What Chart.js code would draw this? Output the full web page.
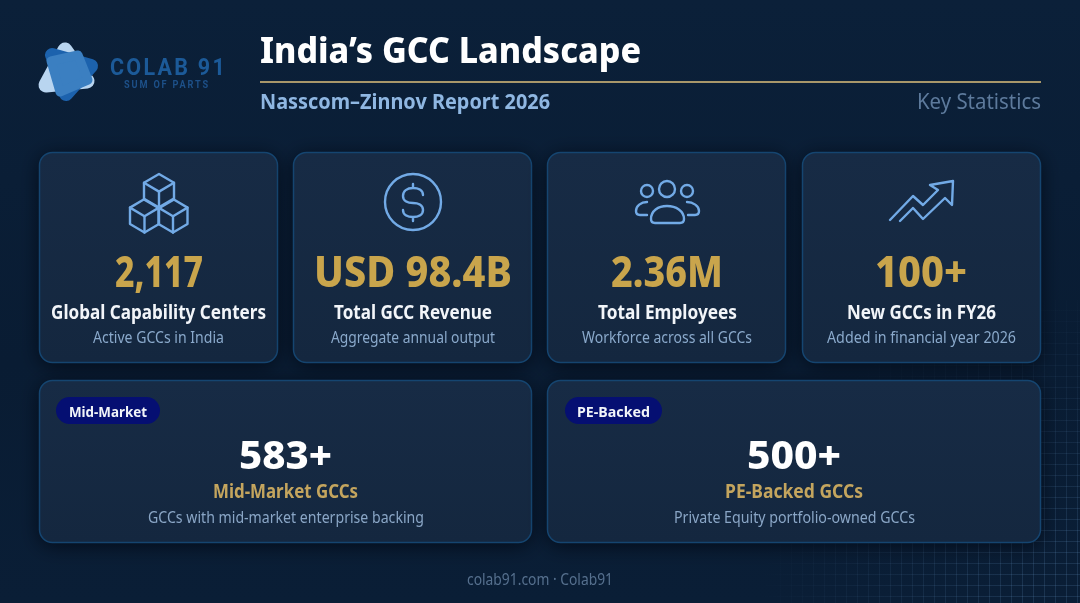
<!DOCTYPE html>
<html>
<head>
<meta charset="utf-8">
<title>India's GCC Landscape</title>
<script src="https://cdn.jsdelivr.net/npm/chart.js@4"></script>
<style>
  html, body { margin: 0; padding: 0; background: #0a1e36; }
  #c { display: block; }
</style>
</head>
<body>
<canvas id="c" width="1080" height="603"></canvas>
<script>
// chart values and text
const statValues = [2117, 98.4, 2.36, 100];
const statTexts = ['2,117', 'USD 98.4B', '2.36M', '100+'];
const statLabels = ['Global Capability Centers', 'Total GCC Revenue', 'Total Employees', 'New GCCs in FY26'];
const statNotes = ['Active GCCs in India', 'Aggregate annual output', 'Workforce across all GCCs', 'Added in financial year 2026'];
const segmentValues = [583, 500];
const segmentTexts = ['583+', '500+'];
const segmentTags = ['Mid-Market', 'PE-Backed'];
const segmentLabels = ['Mid-Market GCCs', 'PE-Backed GCCs'];
const segmentNotes = ['GCCs with mid-market enterprise backing', 'Private Equity portfolio-owned GCCs'];

const FONT = '"Noto Sans", sans-serif';
const GOLD = '#c9a54c';
const ICON = '#72aae6';

// fit text between two x positions, the reference face is narrower than Noto
function fitText(ctx, str, left, right, base, font, color) {
  ctx.save();
  ctx.font = font;
  ctx.fillStyle = color;
  ctx.textAlign = 'left';
  ctx.textBaseline = 'alphabetic';
  const w = ctx.measureText(str).width;
  ctx.translate(left, base);
  ctx.scale((right - left) / w, 1);
  ctx.fillText(str, 0, 0);
  ctx.restore();
}

function card(ctx, x, y, w, h) {
  ctx.save();
  ctx.shadowColor = 'rgba(1,6,16,0.8)';
  ctx.shadowBlur = 20;
  ctx.shadowOffsetY = 3;
  const g = ctx.createLinearGradient(0, y, 0, y + h);
  g.addColorStop(0, '#172b45');
  g.addColorStop(1, '#14273f');
  ctx.fillStyle = g;
  ctx.beginPath();
  ctx.roundRect(x + 0.5, y + 0.5, w - 1, h - 1, 13);
  ctx.fill();
  ctx.restore();
  ctx.strokeStyle = '#154570';
  ctx.lineWidth = 1.5;
  ctx.beginPath();
  ctx.roundRect(x + 0.5, y + 0.5, w - 1, h - 1, 13);
  ctx.stroke();
}

function poly(ctx, pts, close) {
  ctx.beginPath();
  pts.forEach((p, i) => i ? ctx.lineTo(p[0], p[1]) : ctx.moveTo(p[0], p[1]));
  if (close) ctx.closePath();
}

function drawBackground(ctx, w, h) {
  const g = ctx.createLinearGradient(0, 0, 0, h);
  g.addColorStop(0, '#0b2039');
  g.addColorStop(0.6, '#091c33');
  g.addColorStop(1, '#0a1e36');
  ctx.fillStyle = g;
  ctx.fillRect(0, 0, w, h);

  // faint grid in the bottom right corner
  const fade = ctx.createRadialGradient(1080, 603, 60, 1080, 603, 320);
  fade.addColorStop(0, 'rgba(110,160,210,0.17)');
  fade.addColorStop(1, 'rgba(110,160,210,0)');
  ctx.strokeStyle = fade;
  ctx.lineWidth = 1;
  ctx.beginPath();
  for (let x = 780.5; x < w; x += 11) { ctx.moveTo(x, 300); ctx.lineTo(x, h); }
  for (let y = 310.5; y < h; y += 11) { ctx.moveTo(760, y); ctx.lineTo(w, y); }
  ctx.stroke();
}

function drawLogo(ctx) {
  ctx.save();
  ctx.lineJoin = 'round';
  const blob = (pts, color, r) => {
    ctx.fillStyle = color;
    ctx.strokeStyle = color;
    ctx.lineWidth = r;
    poly(ctx, pts, true);
    ctx.fill();
    ctx.stroke();
  };
  blob([[65, 50], [46, 85], [87, 81]], '#b9d5f0', 15);
  blob([[52, 55], [91, 66], [66, 94]], '#1c62ad', 14);
  blob([[51, 61], [78, 55], [88, 80], [60, 92]], '#3b7fc1', 9);
  ctx.restore();

  ctx.save();
  ctx.letterSpacing = '2.4px';
  fitText(ctx, 'COLAB 91', 110, 227, 75, '700 23px Roboto, sans-serif', '#1c5a98');
  ctx.letterSpacing = '2px';
  fitText(ctx, 'SUM OF PARTS', 124, 210, 88, '700 10px Roboto, sans-serif', '#1d5088');
  ctx.restore();
}

function drawCubes(ctx) {
  const cube = (cx, top, r, d) => {
    poly(ctx, [[cx, top], [cx + r, top + d], [cx + r, top + 2.9 * d], [cx, top + 3.9 * d], [cx - r, top + 2.9 * d], [cx - r, top + d]], true);
    ctx.stroke();
    poly(ctx, [[cx - r, top + d], [cx, top + 2 * d], [cx + r, top + d]]);
    ctx.stroke();
    poly(ctx, [[cx, top + 2 * d], [cx, top + 3.9 * d]]);
    ctx.stroke();
  };
  cube(159, 174, 15, 8.8);
  cube(144.5, 199, 14.5, 8.6);
  cube(173, 199, 14.5, 8.6);
}

function drawDollar(ctx) {
  ctx.beginPath();
  ctx.arc(413, 202, 28, 0, Math.PI * 2);
  ctx.stroke();
  ctx.beginPath();
  ctx.moveTo(423, 195);
  ctx.bezierCurveTo(423, 190, 418, 188, 413, 188);
  ctx.bezierCurveTo(407, 188, 403, 191, 403, 196);
  ctx.bezierCurveTo(403, 201, 408, 203, 413, 203);
  ctx.bezierCurveTo(418, 203, 423, 205, 423, 210);
  ctx.bezierCurveTo(423, 215, 418, 217, 413, 217);
  ctx.bezierCurveTo(408, 217, 403, 215, 403, 210);
  ctx.moveTo(413, 184); ctx.lineTo(413, 188);
  ctx.moveTo(413, 217); ctx.lineTo(413, 221);
  ctx.stroke();
}

function drawPeople(ctx) {
  [[667, 189, 8], [647, 191, 6], [687, 191, 6]].forEach(c => {
    ctx.beginPath();
    ctx.arc(c[0], c[1], c[2], 0, Math.PI * 2);
    ctx.stroke();
  });
  ctx.beginPath();
  ctx.moveTo(655, 223);
  ctx.quadraticCurveTo(651, 223, 651, 219);
  ctx.bezierCurveTo(651, 211, 658, 206, 667, 206);
  ctx.bezierCurveTo(676, 206, 684, 211, 684, 219);
  ctx.quadraticCurveTo(684, 223, 680, 223);
  ctx.closePath();
  ctx.stroke();
  ctx.beginPath();
  ctx.moveTo(647, 202);
  ctx.bezierCurveTo(641, 202, 636, 206, 636, 211);
  ctx.quadraticCurveTo(636, 215, 640, 215);
  ctx.lineTo(647, 215);
  ctx.moveTo(687, 202);
  ctx.bezierCurveTo(693, 202, 699, 206, 699, 211);
  ctx.quadraticCurveTo(699, 215, 695, 215);
  ctx.lineTo(688, 215);
  ctx.stroke();
}

function drawArrow(ctx) {
  poly(ctx, [[890, 220], [913, 196], [923, 205], [938, 190], [930, 185], [953, 181], [952, 205], [945, 198], [923, 219], [913, 208], [900, 221]]);
  ctx.stroke();
}

// the page is one chart, the cards are drawn behind the hidden scales
const infographic = {
  id: 'infographic',
  beforeDraw(chart) {
    const ctx = chart.ctx;
    drawBackground(ctx, chart.width, chart.height);
    drawLogo(ctx);

    fitText(ctx, 'India\u2019s GCC Landscape', 260, 641, 63, '800 36px ' + FONT, '#ffffff');
    ctx.fillStyle = '#a8976a';
    ctx.fillRect(260, 81, 781, 2);
    fitText(ctx, 'Nasscom\u2013Zinnov Report 2026', 260, 550, 109, '700 22px ' + FONT, '#8fb7e2');
    fitText(ctx, 'Key Statistics', 917, 1041, 109, '400 22px ' + FONT, '#5d7a9c');

    // top row
    const cardX = [39, 293, 547, 802];
    const valueX = [[115, 203], [314, 512], [611, 723], [875, 967]];
    const labelX = [[51, 266], [334, 492], [598, 737], [847, 996]];
    const noteX = [[93, 224], [331, 495], [582, 752], [827, 1016]];
    const icons = [drawCubes, drawDollar, drawPeople, drawArrow];
    statTexts.forEach((t, i) => {
      card(ctx, cardX[i], 152, 239, 211);
      ctx.save();
      ctx.strokeStyle = ICON;
      ctx.lineWidth = 2.4;
      ctx.lineJoin = 'round';
      ctx.lineCap = 'round';
      icons[i](ctx);
      ctx.restore();
      fitText(ctx, t, valueX[i][0], valueX[i][1], 287, '800 42px ' + FONT, GOLD);
      fitText(ctx, statLabels[i], labelX[i][0], labelX[i][1], 319, '700 19.5px ' + FONT, '#f2f5f9');
      fitText(ctx, statNotes[i], noteX[i][0], noteX[i][1], 343, '400 16px ' + FONT, '#8aa9cb');
    });

    // bottom row
    const wideX = [39, 547];
    const wideW = [493, 494];
    const pillX = [[56, 160], [565, 662]];
    const tagX = [[69, 147], [577, 650]];
    const bigX = [[239, 332], [747, 841]];
    const subX = [[213, 358], [725, 863]];
    const descX = [[148, 424], [674, 915]];
    segmentTexts.forEach((t, i) => {
      card(ctx, wideX[i], 380, wideW[i], 163);
      ctx.fillStyle = '#050f72';
      ctx.beginPath();
      ctx.roundRect(pillX[i][0], 397, pillX[i][1] - pillX[i][0], 27, 13.5);
      ctx.fill();
      fitText(ctx, segmentTags[i], tagX[i][0], tagX[i][1], 417, '700 15px ' + FONT, '#f2f5f9');
      fitText(ctx, t, bigX[i][0], bigX[i][1], 469, '800 40px ' + FONT, '#ffffff');
      fitText(ctx, segmentLabels[i], subX[i][0], subX[i][1], 498, '700 19px ' + FONT, '#c4a55e');
      fitText(ctx, segmentNotes[i], descX[i][0], descX[i][1], 523, '400 16px ' + FONT, '#8aa6c6');
    });

    fitText(ctx, 'colab91.com \u00b7 Colab91', 467, 613, 585, '400 16px ' + FONT, '#56708e');
  }
};

new Chart(document.getElementById('c').getContext('2d'), {
  type: 'bar',
  data: {
    labels: statLabels.concat(segmentLabels),
    datasets: [{
      label: 'GCC statistics',
      data: statValues.concat(segmentValues),
      hidden: true
    }]
  },
  options: {
    responsive: false,
    animation: false,
    devicePixelRatio: 1,
    plugins: { legend: { display: false }, tooltip: { enabled: false }, title: { display: false } },
    scales: { x: { display: false }, y: { display: false } }
  },
  plugins: [infographic]
});
</script>
</body>
</html>
